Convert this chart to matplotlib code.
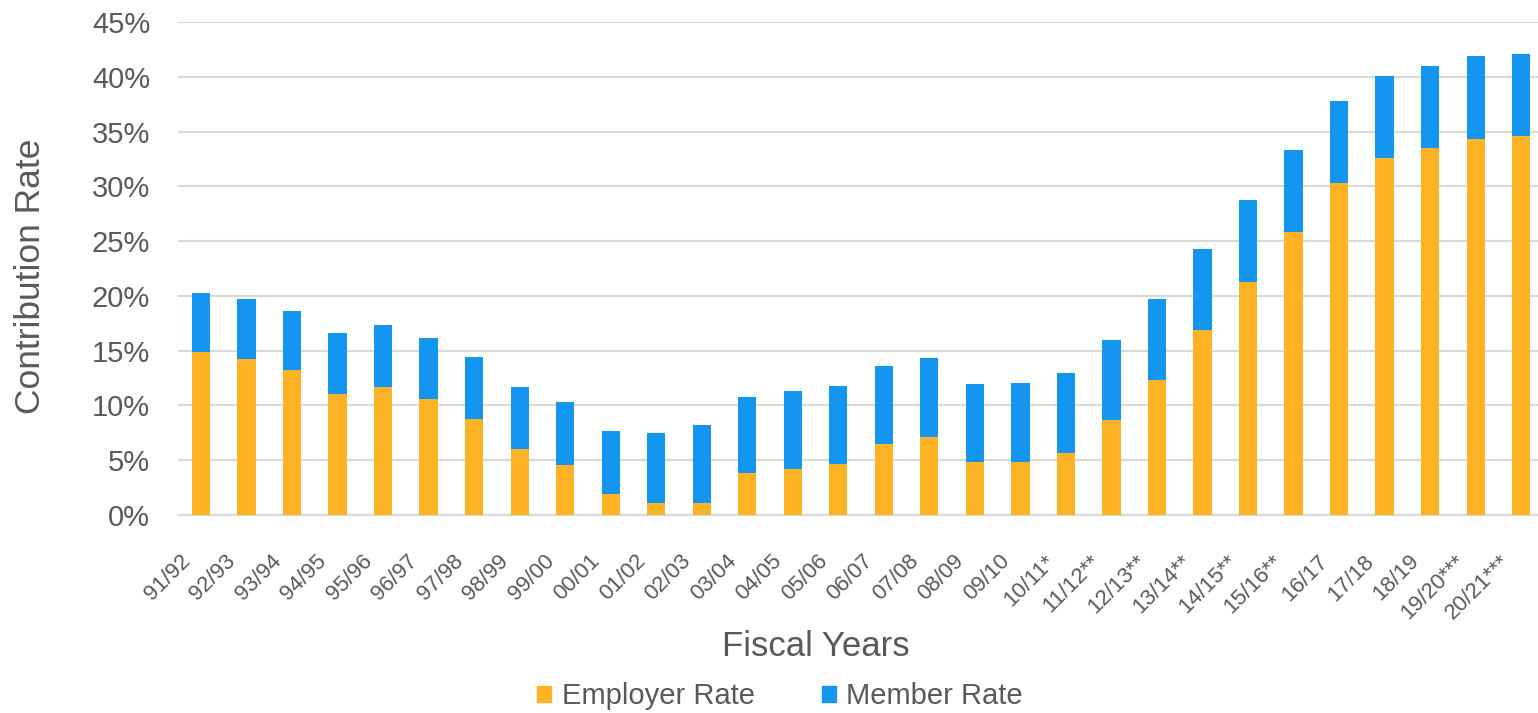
import matplotlib.pyplot as plt
import numpy as np
from matplotlib.ticker import FuncFormatter
from matplotlib.patches import Patch
from matplotlib.transforms import ScaledTranslation

plt.rcParams['font.family'] = ['Liberation Sans', 'DejaVu Sans']

years = ["91/92", "92/93", "93/94", "94/95", "95/96", "96/97", "97/98", "98/99",
         "99/00", "00/01", "01/02", "02/03", "03/04", "04/05", "05/06", "06/07",
         "07/08", "08/09", "09/10", "10/11*", "11/12**", "12/13**", "13/14**",
         "14/15**", "15/16**", "16/17", "17/18", "18/19", "19/20***", "20/21***"]

# employer share and total (employer + member), in percent
employer = [14.9, 14.2, 13.2, 11.0, 11.7, 10.6, 8.8, 6.0, 4.6, 1.9, 1.1, 1.1,
            3.8, 4.2, 4.7, 6.45, 7.15, 4.8, 4.8, 5.66, 8.65, 12.35, 16.9,
            21.3, 25.85, 30.3, 32.6, 33.5, 34.3, 34.55]
total = [20.3, 19.7, 18.6, 16.6, 17.3, 16.2, 14.4, 11.7, 10.3, 7.7, 7.5, 8.2,
         10.8, 11.3, 11.8, 13.6, 14.35, 12.0, 12.07, 12.95, 16.0, 19.7, 24.3,
         28.75, 33.3, 37.8, 40.1, 41.0, 41.9, 42.1]
member = [t - e for t, e in zip(total, employer)]

ORANGE = '#FDB325'
BLUE = '#1496F0'
GREY = '#595959'

fig = plt.figure(figsize=(15.38, 7.13), dpi=100)
ax = fig.add_axes([178 / 1538, 1 - 515 / 713, 1 - 178 / 1538, (515 - 22) / 713])

x = np.arange(len(years))
ax.bar(x, employer, width=0.4, color=ORANGE, zorder=3, label="Employer Rate")
ax.bar(x, member, bottom=employer, width=0.4, color=BLUE, zorder=3, label="Member Rate")

ax.set_ylim(0, 45)
ax.set_xlim(-0.505, 29.37)
ax.set_yticks(np.arange(0, 46, 5))
ax.yaxis.set_major_formatter(FuncFormatter(lambda v, p: f"{v:.0f}%"))
ax.grid(axis='y', color='#D9D9D9', linewidth=1.5, zorder=0)
for s in ['top', 'right', 'left']:
    ax.spines[s].set_visible(False)
ax.spines['bottom'].set_color('#D9D9D9')
ax.spines['bottom'].set_linewidth(1.5)
ax.tick_params(axis='both', length=0, colors=GREY)
ax.tick_params(axis='y', labelsize=21, pad=20)

ax.set_xticks(x)
ax.set_xticklabels(years, rotation=45, ha='right', va='center',
                   rotation_mode='anchor', fontsize=16)
ax.tick_params(axis='x', pad=26)
# nudge rotated labels down-left, as in the original
shift = ScaledTranslation(-0.14, -0.07, fig.dpi_scale_trans)
for lbl in ax.get_xticklabels():
    lbl.set_transform(lbl.get_transform() + shift)

fig.text(30 / 1538, 1 - 276 / 713, "Contribution Rate", rotation=90, ha='center',
         va='center', fontsize=25.5, color=GREY)
fig.text(816 / 1538, 1 - 647 / 713, "Fiscal Years", ha='center', va='center',
         fontsize=25, color=GREY)

handles = [Patch(color=ORANGE, label="Employer Rate"), Patch(color=BLUE, label="Member Rate")]
fig.legend(handles=handles, loc='center', bbox_to_anchor=(780 / 1538, 1 - 696 / 713),
           ncol=2, frameon=False, fontsize=21, labelcolor=GREY, handlelength=0.48,
           handleheight=0.48, handletextpad=0.35, columnspacing=2.3,
           borderpad=0, borderaxespad=0)

fig.savefig("out.png", dpi=100)
